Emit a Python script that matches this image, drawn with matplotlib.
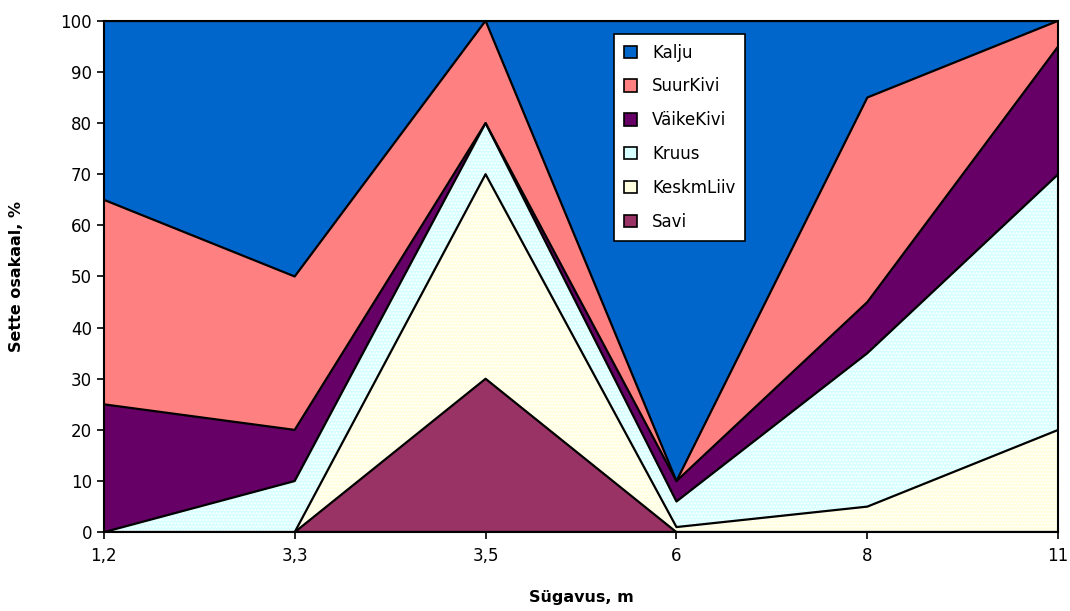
import numpy as np
import matplotlib.pyplot as plt
from matplotlib.patches import Patch

plt.rcParams['font.family'] = ['DejaVu Sans']

# Sügavus (m) ja settefraktsioonide osakaalud (%)
depths = ['1,2', '3,3', '3,5', '6', '8', '11']
savi = [0, 0, 30, 0, 0, 0]
keskmliiv = [0, 0, 40, 1, 5, 20]
kruus = [0, 10, 10, 5, 30, 50]
vaikekivi = [25, 10, 0, 4, 10, 25]
suurkivi = [40, 30, 20, 0, 40, 5]
kalju = [35, 50, 0, 90, 15, 0]

names = ['Savi', 'KeskmLiiv', 'Kruus', 'VäikeKivi', 'SuurKivi', 'Kalju']
colors = ['#993366', '#FFFFE0', '#D6FFFF', '#660066', '#FF8080', '#0066CC']
series = [savi, keskmliiv, kruus, vaikekivi, suurkivi, kalju]

x = np.arange(len(depths))
cum = np.vstack([np.zeros(len(x)), np.cumsum(series, axis=0)])

fig, ax = plt.subplots(figsize=(10.7, 6.11), dpi=100)
fig.subplots_adjust(left=0.097, right=0.989, top=0.966, bottom=0.129)

for i, (name, col) in enumerate(zip(names, colors)):
    ax.fill_between(x, cum[i], cum[i + 1], facecolor=col, linewidth=0, zorder=1)
    if name in ('Kruus', 'KeskmLiiv'):
        # peen punktmuster heledatel aladel
        ax.fill_between(x, cum[i], cum[i + 1], facecolor='none',
                        edgecolor='white', hatch='.....', linewidth=0, zorder=2)

# piirjooned
for i in range(len(cum)):
    ax.plot(x, cum[i], color='black', linewidth=1.6, zorder=3)

ax.set_xlim(0, len(x) - 1)
ax.set_ylim(0, 100)
ax.set_xticks(x)
ax.set_xticklabels(depths)
ax.set_yticks(np.arange(0, 101, 10))
ax.tick_params(axis='both', labelsize=12, length=5, width=1.2, direction='out')
ax.tick_params(axis='x', pad=6)
for s in ax.spines.values():
    s.set_linewidth(1.5)
    s.set_zorder(4)

ax.set_xlabel('Sügavus, m', fontsize=11.5, fontweight='bold', labelpad=18)
ax.set_ylabel('Sette osakaal, %', fontsize=11.5, fontweight='bold', labelpad=26)

handles = [Patch(facecolor=c, edgecolor='black', linewidth=1.2, label=n)
           for n, c in zip(names, colors)][::-1]
leg = ax.legend(handles=handles, loc='upper left', bbox_to_anchor=(0.535, 0.975),
                fontsize=12, frameon=True, fancybox=False, framealpha=1,
                edgecolor='black', handlelength=0.75, handleheight=0.75,
                handletextpad=0.9, labelspacing=0.95, borderpad=0.6,
                borderaxespad=0)
leg.get_frame().set_linewidth(1.2)
leg.set_zorder(5)

plt.savefig('out.png', dpi=100, facecolor='white')
plt.close()
